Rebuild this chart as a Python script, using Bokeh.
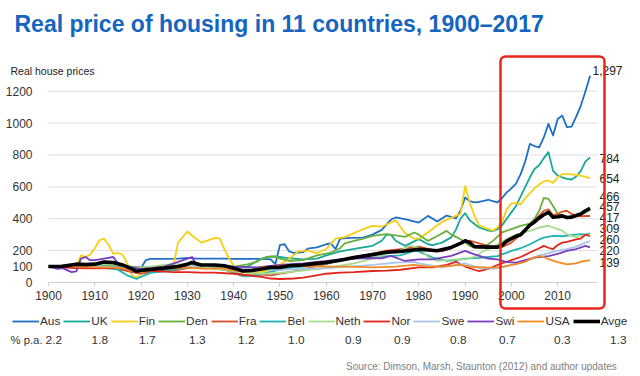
from bokeh.plotting import figure
from bokeh.models import Legend, LegendItem, Label, BoxAnnotation, FixedTicker, Range1d
from bokeh.embed import file_html
from bokeh.resources import INLINE

# ---------------- data (real house price index, 1900 = 100) ----------------
AUS_YEARS = [1900,1903,1906,1909,1912,1915,1918,1919,1920,1921,1922,1925,1928,1930,1932,1935,1938,1940,1943,1946,
             1948,1949,1950,1951,1952,1953,1955,1956,1958,1960,1961,1962,1963,1965,1968,1970,1972,1974,1975,1977,
             1980,1982,1984,1986,1988,1989,1990,1991,1992,1993,1994,1995,1996,1997,1998,1999,2000,2001,2002,2003,
             2004,2005,2006,2007,2008,2009,2010,2011,2012,2013,2014,2015,2016,2017]
AUS_VALUES = [100,95,98,102,105,100,88,82,90,140,148,148,150,155,150,150,150,148,148,148,
              145,115,235,240,195,185,190,212,220,240,245,210,275,280,282,300,330,395,408,397,
              376,418,383,420,402,450,533,510,502,505,512,519,510,502,530,565,590,620,680,760,
              870,855,848,910,995,922,1026,1047,974,978,1040,1110,1200,1297]

UK_YEARS = [1900,1904,1908,1912,1915,1918,1920,1923,1926,1930,1934,1938,1940,1943,1946,1948,1950,1952,1955,1958,
            1960,1963,1967,1970,1972,1973,1974,1975,1977,1979,1980,1982,1983,1985,1987,1988,1989,1990,1991,1993,
            1995,1996,1997,1998,1999,2000,2001,2002,2003,2004,2005,2006,2007,2008,2009,2010,2011,2012,2013,2014,
            2015,2016,2017]
UK_VALUES = [100,95,92,90,82,70,75,82,88,95,100,100,90,100,150,162,160,152,145,150,
             170,195,215,230,262,300,299,262,230,258,272,240,235,250,283,330,400,435,390,345,
             325,322,334,360,400,440,480,540,600,660,712,735,780,818,700,671,660,650,646,665,
             700,760,784]

FIN_YEARS = [1900,1903,1906,1907,1908,1909,1910,1911,1912,1913,1914,1915,1916,1917,1918,1919,1920,1922,1925,1927,
             1928,1930,1931,1933,1934,1936,1937,1938,1939,1940,1942,1945,1948,1950,1952,1954,1956,1958,1960,1962,
             1964,1966,1968,1970,1972,1975,1977,1979,1980,1982,1985,1987,1989,1990,1991,1992,1993,1995,1996,1997,
             1998,1999,2000,2001,2002,2003,2004,2005,2006,2007,2008,2009,2010,2011,2012,2013,2014,2015,2016,2017]
FIN_VALUES = [105,100,100,170,160,175,215,265,275,235,180,185,175,120,45,30,55,80,95,110,
              250,320,295,250,260,280,275,210,150,105,65,60,80,110,150,195,200,185,210,275,
              285,310,335,355,350,390,310,275,275,315,380,405,430,605,500,420,360,335,325,345,
              380,460,495,500,490,530,560,590,615,635,640,625,660,680,680,678,675,670,662,654]

DEN_YEARS = [1900,1904,1908,1912,1916,1918,1920,1924,1928,1932,1936,1940,1943,1945,1947,1949,1950,1952,1955,1958,
             1961,1963,1964,1966,1968,1970,1973,1975,1977,1979,1980,1982,1984,1986,1987,1989,1991,1992,1994,1996,
             1998,2000,2002,2004,2005,2006,2007,2008,2009,2010,2011,2012,2013,2014,2015,2016,2017]
DEN_VALUES = [100,108,112,110,105,100,95,100,108,112,110,100,114,130,160,165,150,135,140,170,
              188,215,245,261,275,292,303,295,286,314,300,261,292,324,300,272,230,219,219,261,
              314,335,355,370,400,449,530,525,480,430,420,405,410,415,425,440,457]

FRA_YEARS = [1900,1905,1910,1914,1916,1918,1920,1922,1925,1928,1930,1932,1935,1938,1940,1942,1944,1946,1948,1950,
             1953,1956,1958,1960,1963,1966,1970,1973,1976,1980,1983,1985,1987,1989,1991,1993,1995,1997,1998,2000,
             2002,2004,2006,2007,2008,2009,2010,2011,2012,2013,2014,2015,2016,2017]
FRA_VALUES = [100,100,95,90,80,65,55,65,75,80,90,95,90,80,65,50,45,50,45,55,
              70,90,105,115,140,160,180,200,210,225,205,195,215,245,263,245,230,220,222,250,
              300,360,420,450,459,420,430,445,450,430,420,415,417,417]

BEL_YEARS = [1900,1905,1910,1913,1915,1917,1919,1920,1922,1925,1928,1930,1933,1937,1940,1942,1945,1947,1950,1953,
             1955,1958,1960,1963,1966,1970,1973,1976,1979,1980,1983,1986,1988,1990,1993,1995,1997,2000,2002,2004,
             2006,2007,2009,2011,2013,2015,2016,2017]
BEL_VALUES = [100,100,105,100,80,45,22,35,60,70,85,95,100,95,60,40,45,60,80,95,
              100,110,120,135,150,156,165,170,198,195,156,135,140,150,155,160,165,198,215,240,
              270,282,292,290,297,303,300,309]

NETH_YEARS = [1900,1905,1910,1913,1916,1919,1922,1925,1928,1930,1933,1936,1940,1943,1946,1950,1955,1960,1963,1966,
              1970,1973,1976,1978,1980,1982,1984,1986,1988,1990,1992,1994,1996,1997,1999,2001,2004,2006,2008,2010,
              2011,2012,2013,2014,2015,2016,2017]
NETH_VALUES = [100,105,110,115,110,90,100,110,115,110,100,85,70,60,55,60,75,90,105,120,
               150,180,200,230,219,160,135,140,145,145,160,198,220,240,272,300,324,345,356,335,
               325,303,292,285,290,295,300]

NOR_YEARS = [1900,1903,1906,1910,1914,1917,1919,1921,1924,1927,1930,1933,1936,1940,1943,1946,1948,1950,1953,1955,
             1957,1960,1963,1966,1970,1973,1976,1980,1983,1986,1988,1990,1992,1993,1995,1997,2000,2002,2004,2006,
             2007,2008,2009,2010,2011,2012,2013,2014,2015,2016,2017]
NOR_VALUES = [100,95,90,88,90,95,80,75,70,65,65,62,62,55,45,35,25,22,25,30,
              40,55,62,65,72,75,80,95,95,110,130,100,80,72,85,110,140,160,188,215,
              230,218,210,235,250,255,262,270,275,300,290]

SWE_YEARS = [1900,1905,1910,1915,1918,1920,1925,1930,1935,1940,1945,1950,1955,1960,1965,1970,1975,1979,1980,1985,
             1988,1990,1993,1996,1998,2000,2002,2004,2006,2008,2010,2012,2014,2016,2017]
SWE_VALUES = [100,105,100,95,85,80,90,100,105,95,85,80,85,90,100,110,125,130,120,95,
              110,120,90,85,95,110,125,145,170,185,200,210,225,250,260]

SWI_YEARS = [1900,1902,1903,1905,1906,1907,1908,1909,1910,1912,1914,1915,1917,1920,1922,1925,1928,1930,1931,1932,
             1935,1940,1945,1950,1955,1960,1963,1967,1972,1974,1977,1980,1983,1987,1990,1992,1995,1997,1999,2001,
             2003,2005,2008,2010,2012,2014,2016,2017]
SWI_VALUES = [100,85,90,65,70,150,160,140,140,150,160,120,100,85,90,100,130,150,160,110,
              110,100,95,110,120,135,145,152,152,167,135,145,145,167,198,177,150,145,128,125,
              140,156,166,180,198,210,230,220]

USA_YEARS = [1900,1903,1906,1910,1913,1916,1918,1920,1922,1925,1928,1930,1932,1934,1937,1940,1942,1944,1946,1948,
             1950,1955,1960,1965,1970,1975,1979,1982,1985,1989,1991,1995,1997,1999,2001,2003,2004,2006,2007,2008,
             2010,2012,2014,2015,2016,2017]
USA_VALUES = [100,105,100,95,95,90,75,70,80,85,90,95,90,85,90,75,70,75,95,100,
              105,105,100,100,95,100,110,100,100,110,100,93,95,104,115,130,146,166,160,146,
              128,114,120,131,136,139]

AVG_YEARS = [1900,1903,1906,1908,1910,1912,1914,1916,1918,1919,1920,1922,1925,1928,1930,1931,1933,1936,1938,1940,
             1942,1944,1946,1948,1950,1952,1955,1958,1960,1963,1966,1970,1973,1976,1980,1984,1987,1989,1990,1991,
             1992,1995,1997,1998,1999,2000,2001,2002,2003,2004,2005,2006,2007,2008,2009,2010,2011,2012,2013,2014,
             2015,2016,2017]
AVG_VALUES = [100,102,115,112,115,128,125,110,85,70,75,82,90,100,115,125,110,110,105,90,
              72,75,85,95,95,105,110,120,125,140,157,175,190,195,209,199,220,245,262,250,
              225,222,222,235,260,275,290,300,330,360,380,405,425,440,410,412,418,408,410,420,
              430,450,466]

NAMES = ["Aus", "UK", "Fin", "Den", "Fra", "Bel", "Neth", "Nor", "Swe", "Swi", "USA", "Avge"]
PA_GROWTH = ["2.2", "1.8", "1.7", "1.3", "1.2", "1.0", "0.9", "0.9", "0.8", "0.7", "0.3", "1.3"]
END_LABELS = ["1,297", "784", "654", "466", "457", "417", "309", "260", "220", "139"]
X_TICKS = [1900, 1910, 1920, 1930, 1940, 1950, 1960, 1970, 1980, 1990, 2000, 2010]
Y_TICKS = [0, 100, 200, 400, 600, 800, 1000, 1200]
Y_GRID = [200, 400, 600, 800, 1000, 1200]

SERIES = [(AUS_YEARS, AUS_VALUES), (UK_YEARS, UK_VALUES), (FIN_YEARS, FIN_VALUES), (DEN_YEARS, DEN_VALUES),
          (FRA_YEARS, FRA_VALUES), (BEL_YEARS, BEL_VALUES), (NETH_YEARS, NETH_VALUES), (NOR_YEARS, NOR_VALUES),
          (SWE_YEARS, SWE_VALUES), (SWI_YEARS, SWI_VALUES), (USA_YEARS, USA_VALUES), (AVG_YEARS, AVG_VALUES)]

# ---------------- styling ----------------
COLORS = ["#1f6fc5", "#17a898", "#f5cf14", "#6ab03c", "#dc4f29", "#20b3b6",
          "#a7dc8c", "#e3241b", "#a9c5ea", "#7a3dbd", "#f28a24", "#000000"]
WIDTHS = [1.8] * 11 + [3.6]
FONT = "Liberation Sans"

W, H = 640, 376
X0, X1 = 1900, 2018.6                 # data span of the plotting area
Y0, Y1 = 0, 1380
FL, FR, FT, FB = 48, 597, 62, 282     # where that span sits, in pixels


def sx(px):
    return X0 + (px - FL) * (X1 - X0) / (FR - FL)


def sy(py):
    return Y0 + (FB - py) * (Y1 - Y0) / (FB - FT)


# the frame covers the whole canvas so that texts around the chart are not clipped
p = figure(width=W, height=H, output_backend="svg", toolbar_location=None, title=None,
           x_range=Range1d(sx(0), sx(W)), y_range=Range1d(sy(H), sy(0)),
           min_border_left=0, min_border_right=0, min_border_top=0, min_border_bottom=0)
p.outline_line_color = None
p.background_fill_color = "white"
p.border_fill_color = "white"
p.xgrid.grid_line_color = None
p.ygrid.grid_line_color = None

# horizontal gridlines and base line, limited to the plotting area
p.segment(x0=[X0] * len(Y_GRID), x1=[X1] * len(Y_GRID), y0=Y_GRID, y1=Y_GRID,
          line_color="#dedede", line_width=1)
p.segment(x0=[X0], x1=[X1], y0=[0], y1=[0], line_color="#d0d0d0", line_width=1)

p.xaxis.fixed_location = 0
p.xaxis.ticker = FixedTicker(ticks=X_TICKS)
p.xaxis.axis_line_color = None
p.xaxis.major_tick_line_color = "#d0d0d0"
p.xaxis.major_tick_in = 0
p.xaxis.major_tick_out = 4
p.xaxis.minor_tick_line_color = None
p.xaxis.major_label_standoff = 4
p.yaxis.fixed_location = X0
p.yaxis.ticker = FixedTicker(ticks=Y_TICKS)
p.yaxis.axis_line_color = None
p.yaxis.major_tick_line_color = None
p.yaxis.minor_tick_line_color = None
p.yaxis.major_label_standoff = 10
for ax in (p.xaxis, p.yaxis):
    ax.major_label_text_font = FONT
    ax.major_label_text_font_size = "12px"
    ax.major_label_text_color = "#333333"

renderers = []
for (yrs, vals), col, w in zip(SERIES, COLORS, WIDTHS):
    assert len(yrs) == len(vals)
    r = p.line(x=yrs, y=vals, line_color=col, line_width=w, line_join="round")
    renderers.append(r)

legend = Legend(items=[LegendItem(label=n, renderers=[r]) for n, r in zip(NAMES, renderers)],
                orientation="horizontal", location=(12, H - 328),
                glyph_width=27, glyph_height=14, label_height=14, label_width=0,
                label_standoff=1, spacing=3, padding=0, margin=0,
                border_line_color=None, background_fill_alpha=0,
                label_text_font=FONT, label_text_font_size="11.8px", label_text_color="#333333")
p.add_layout(legend, "center")

# title and other texts
p.add_layout(Label(x=sx(14), y=sy(23), text="Real price of housing in 11 countries, 1900\u20132017",
                   text_font=FONT, text_font_style="bold", text_font_size="23px", text_color="#1565c0",
                   text_align="left", text_baseline="middle"))
p.add_layout(Label(x=sx(10), y=sy(70), text="Real house  prices", text_font=FONT, text_font_size="10.5px",
                   text_color="#222222", text_align="left", text_baseline="middle"))

PA_RIGHT = [61.5, 107.5, 155, 205, 254, 304, 361, 410, 466, 515, 570, 626]
p.add_layout(Label(x=sx(10), y=sy(339), text="% p.a.", text_font=FONT, text_font_size="11.3px",
                   text_color="#333333", text_align="left", text_baseline="middle"))
for txt, xr in zip(PA_GROWTH, PA_RIGHT):
    p.add_layout(Label(x=sx(xr), y=sy(339), text=txt, text_font=FONT, text_font_size="11.8px",
                       text_color="#333333", text_align="right", text_baseline="middle"))

END_POS = [(592, 70), (599, 157.5), (599, 178), (599, 195.5), (599, 206), (599, 217),
           (599, 228), (599, 239), (599, 250), (599, 262)]
for txt, (px, py) in zip(END_LABELS, END_POS):
    p.add_layout(Label(x=sx(px), y=sy(py), text=txt, text_font=FONT, text_font_size="12px",
                       text_color="#222222", text_align="left", text_baseline="middle"))

p.add_layout(Label(x=sx(619), y=sy(366), text="Source: Dimson, Marsh, Staunton  (2012) and author updates",
                   text_font=FONT, text_font_size="10px", text_color="#808080",
                   text_align="right", text_baseline="middle"))

# highlight box around 1998-2017
p.add_layout(BoxAnnotation(left=sx(500), right=sx(604), top=sy(56), bottom=sy(308),
                           fill_alpha=0, line_color="#e8261c", line_alpha=1.0, line_width=2.5,
                           border_radius=5))

open("out.html", "w").write(file_html(p, INLINE))
